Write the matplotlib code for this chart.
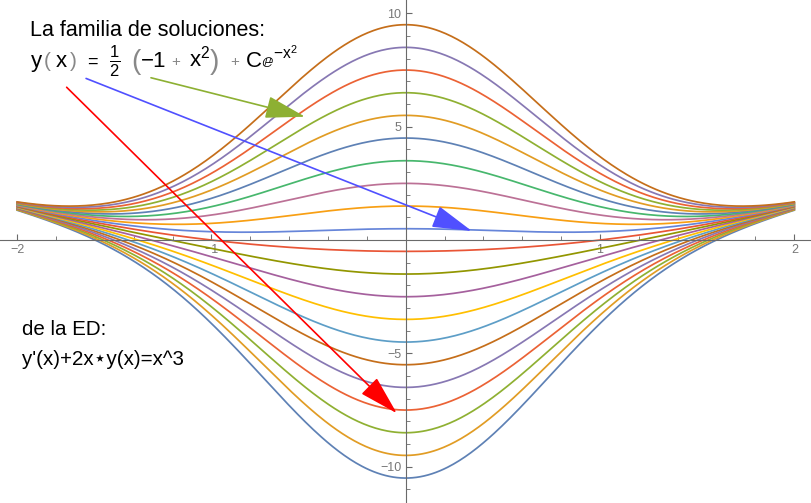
import numpy as np
import matplotlib
matplotlib.use("Agg")
import matplotlib.pyplot as plt
from matplotlib.ticker import MultipleLocator, FixedLocator, FuncFormatter
from matplotlib.patches import FancyArrowPatch

# family of solutions y = (x^2 - 1)/2 + C exp(-x^2), C = -10..10
c_values = list(range(-10, 11))
x_range = (-2.0, 2.0)

# Mathematica default palette (ColorData 97), cycles every 15
palette = [
    "#5E81B5", "#E19C24", "#8FB032", "#EB6235", "#8778B3",
    "#C56E1A", "#5D9EC7", "#FFBF00", "#A5609D", "#929600",
    "#E95536", "#6685D9", "#F89F13", "#BC7196", "#47B76D",
]

x_ticks_labeled = [-2, -1, 1, 2]
y_ticks_labeled = [-10, -5, 5, 10]

plt.rcParams["font.family"] = ["Liberation Sans", "DejaVu Sans"]
plt.rcParams["mathtext.fontset"] = "custom"
plt.rcParams["mathtext.rm"] = "Liberation Sans"
plt.rcParams["mathtext.it"] = "Liberation Sans"

W, H = 812, 503
fig = plt.figure(figsize=(W / 100, H / 100), dpi=100)
ax = fig.add_axes([0, 0, 1, 1])

x = np.linspace(x_range[0], x_range[1], 400)
for i, c in enumerate(c_values):
    y = 0.5 * (x ** 2 - 1) + c * np.exp(-x ** 2)
    ax.plot(x, y, color=palette[i % len(palette)], lw=1.25)

ax.set_xlim(-2.088, 2.091)
ax.set_ylim(-11.6, 10.59)

# Mathematica-like axes through the origin
axis_col = "#6a6a6a"
for side in ["top", "right"]:
    ax.spines[side].set_visible(False)
ax.spines["left"].set_position(("data", 0))
ax.spines["bottom"].set_position(("data", 0))
ax.spines["left"].set_color(axis_col)
ax.spines["bottom"].set_color(axis_col)

ax.xaxis.set_major_locator(FixedLocator(x_ticks_labeled))
ax.xaxis.set_minor_locator(MultipleLocator(0.2))
ax.yaxis.set_major_locator(FixedLocator(y_ticks_labeled))
ax.yaxis.set_minor_locator(MultipleLocator(1))
fmt = FuncFormatter(lambda v, p: ("\u2212" if v < 0 else "") + "%d" % abs(v))
ax.xaxis.set_major_formatter(fmt)
ax.yaxis.set_major_formatter(fmt)
ax.tick_params(axis="both", which="both", direction="in", color=axis_col,
               bottom=True, left=True, top=False, right=False,
               labelsize=9, labelcolor="#777777")
ax.tick_params(which="major", length=4.5, width=0.8, pad=3)
ax.tick_params(which="minor", length=3, width=0.6)

def px(xp, yp):
    return xp / W, 1 - yp / H

# annotations
ax.text(*px(30, 36), "La familia de soluciones:", transform=ax.transAxes,
        fontsize=15.5, color="black")

# formula pieces, Mathematica style
gray = "#888888"
ax.text(*px(30, 67), r"$\mathrm{y}$", transform=ax.transAxes, fontsize=16)
ax.text(*px(44, 67), "(", transform=ax.transAxes, fontsize=15, color=gray)
ax.text(*px(55, 67), r"$\mathrm{x}$", transform=ax.transAxes, fontsize=16)
ax.text(*px(70, 67), ")", transform=ax.transAxes, fontsize=15, color=gray)
ax.text(*px(87, 67), "=", transform=ax.transAxes, fontsize=13)
ax.text(*px(109, 68), r"$\frac{1}{2}$", transform=ax.transAxes, fontsize=17)
ax.text(*px(131, 69), "(", transform=ax.transAxes, fontsize=20, color=gray)
ax.text(*px(141, 67), "\u22121", transform=ax.transAxes, fontsize=16)
ax.text(*px(171, 66), "+", transform=ax.transAxes, fontsize=11, color=gray)
ax.text(*px(189, 67), r"$\mathrm{x}^{2}$", transform=ax.transAxes, fontsize=16)
ax.text(*px(210, 69), ")", transform=ax.transAxes, fontsize=20, color=gray)
ax.text(*px(230, 66), "+", transform=ax.transAxes, fontsize=11, color=gray)
ax.text(*px(245, 67), r"$\mathrm{C}\mathbb{e}^{-\mathrm{x}^2}$",
        transform=ax.transAxes, fontsize=16)

ax.text(*px(22, 335), "de la ED:", transform=ax.transAxes,
        fontsize=14.8, color="black")
ax.text(*px(22, 365), "y'(x)+2x\u22c6y(x)=x^3", transform=ax.transAxes,
        fontsize=14.8, color="black")

# arrows (data coordinates)
arrows = [
    ((-1.745, 6.74), (-0.046, -7.64), "#FF0000"),
    ((-1.645, 7.13), (0.34, 0.40), "#5050FF"),
    ((-1.311, 7.16), (-0.518, 5.44), "#8DB033"),
]
for start, end, col in arrows:
    arr = FancyArrowPatch(start, end, arrowstyle="-|>,head_length=25,head_width=7",
                          color=col, lw=1.2, shrinkA=0, shrinkB=0, zorder=5)
    ax.add_patch(arr)

fig.savefig("out.png", dpi=100)
